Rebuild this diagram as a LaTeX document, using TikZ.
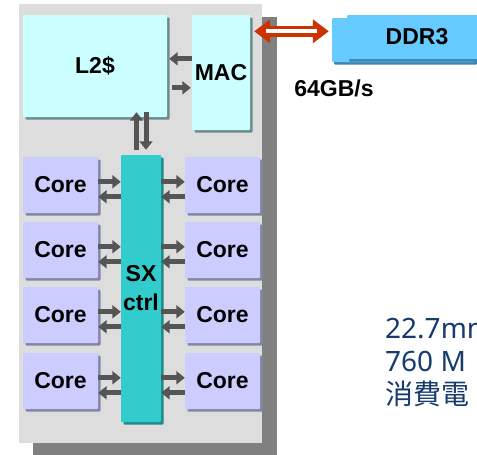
\documentclass[tikz,border=0pt]{standalone}
\usepackage{fontspec}
\setmainfont{Liberation Sans}
\newfontfamily\notosans{Noto Sans}
\newfontfamily\cjk{Noto Sans CJK JP}
\usetikzlibrary{arrows.meta,shadows}
\definecolor{bglight}{HTML}{DDDDDD}
\definecolor{bgdark}{HTML}{808080}
\definecolor{cyanbox}{HTML}{CCFFFF}
\definecolor{cyanshadow}{HTML}{6A8C8C}
\definecolor{corefill}{HTML}{CCCCFF}
\definecolor{coreshadow}{HTML}{8585AA}
\definecolor{sxfill}{HTML}{33CCCC}
\definecolor{sxshadow}{HTML}{1E8A8A}
\definecolor{arrowgray}{HTML}{555555}
\definecolor{redarrow}{HTML}{CC3300}
\definecolor{ddrfill}{HTML}{66CCFF}
\definecolor{ddrshadow}{HTML}{3A86B0}
\definecolor{bluetext}{HTML}{173B6E}
\begin{document}
\begin{tikzpicture}[x=1pt,y=-1pt,
  lbl/.style={font=\bfseries\fontsize{23}{29}\selectfont},
  blk/.style={rectangle, inner sep=0pt, lbl, rounded corners=1pt},
  cyanblk/.style={blk, fill=cyanbox, drop shadow={shadow xshift=2.5pt, shadow yshift=-2.5pt, fill=cyanshadow, opacity=1, draw=none}},
  coreblk/.style={blk, fill=corefill, minimum width=75pt, minimum height=56pt,
    drop shadow={shadow xshift=2.5pt, shadow yshift=-2.5pt, fill=coreshadow, opacity=1, draw=none}},
  sxblk/.style={blk, fill=sxfill, align=center,
    drop shadow={shadow xshift=2.5pt, shadow yshift=-2.5pt, fill=sxshadow, opacity=1, draw=none}},
  ddrblk/.style={blk, fill=ddrfill,
    drop shadow={shadow xshift=2pt, shadow yshift=-2.5pt, fill=ddrshadow, opacity=1, draw=none}},
  gar/.style={draw=arrowgray, line width=5pt, -{Triangle[length=8.5pt,width=13pt]}},
  bluelbl/.style={anchor=base west, inner sep=0pt, text=bluetext},
]
\useasboundingbox (0,0) rectangle (477,455);
\clip (0,0) rectangle (477,455);
\fill[white] (0,0) rectangle (477,455);
% chip background
\fill[bgdark] (33,17) rectangle (277,460);
\fill[bglight] (19,4) rectangle (262,443);
% L2 and MAC
\node[cyanblk, minimum width=144pt, minimum height=102pt] (l2) at (95,66) {L2\$};
\node[cyanblk, minimum width=58pt, minimum height=115pt] (mac) at (221,72.5) {MAC};
% SX ctrl
\node[sxblk, minimum width=40pt, minimum height=267pt] (sx) at (141,288.5) {SX\\ctrl};
% cores
\foreach \i/\yc in {1/185,2/250,3/315,4/381}{
  \node[coreblk] (cl\i) at (60.5,\yc) {Core};
  \node[coreblk] (cr\i) at (222.5,\yc) {Core};
  \draw[gar] ([yshift=-25pt]cl\i.north east) -- ([yshift=-25pt]cl\i.north east -| sx.west);
  \draw[gar] ([yshift=-40pt]cl\i.north east -| sx.west) -- ([yshift=-40pt]cl\i.north east);
  \draw[gar] ([yshift=-25pt]cr\i.north west -| sx.east) -- ([yshift=-25pt]cr\i.north west);
  \draw[gar] ([yshift=-40pt]cr\i.north west) -- ([yshift=-40pt]cr\i.north west -| sx.east);
}
% L2 <-> MAC
\draw[gar] ([yshift=-44pt]mac.north west) -- ([xshift=2pt,yshift=-44pt]mac.north west -| l2.east);
\draw[gar] ([xshift=5pt,yshift=-73pt]mac.north west -| l2.east) -- ([xshift=-1pt,yshift=-73pt]mac.north west);
% L2 <-> SX
\draw[gar] ([xshift=-4.5pt,yshift=5pt]sx.north) -- ([xshift=-4.5pt,yshift=5pt]sx.north |- l2.south);
\draw[gar] ([xshift=5pt,yshift=5pt]sx.north |- l2.south) -- ([xshift=5pt,yshift=5pt]sx.north);
% DDR3
\node[ddrblk, minimum width=143pt, minimum height=44pt] (ddrb) at (403.5,40) {};
\node[ddrblk, minimum width=140pt, minimum height=44pt] (ddr) at (417,37) {DDR3};
% red double arrow
\coordinate (ra) at ([xshift=4pt,yshift=-16.5pt]mac.north east);
\coordinate (rb) at ([xshift=-3pt]ra -| ddrb.west);
\draw[redarrow, line width=11pt, {Triangle[length=16pt,width=23pt]}-{Triangle[length=16pt,width=23pt]}] (ra) -- (rb);
\draw[white, line width=4pt] ([xshift=12pt]ra) -- ([xshift=-12pt]rb);
% bandwidth
\node[lbl, inner sep=0pt] (bw) at (334,88) {64GB/s};
% blue text
\node[bluelbl, font=\notosans\fontsize{28}{33}\selectfont] (t1) at (385,338) {22.7mm};
\node[bluelbl, font=\notosans\fontsize{28}{33}\selectfont] (t2) at (385,371) {760 M};
\node[bluelbl, font=\cjk\fontsize{28}{33}\selectfont] (t3) at (385,404) {消費電};
\end{tikzpicture}
\end{document}
